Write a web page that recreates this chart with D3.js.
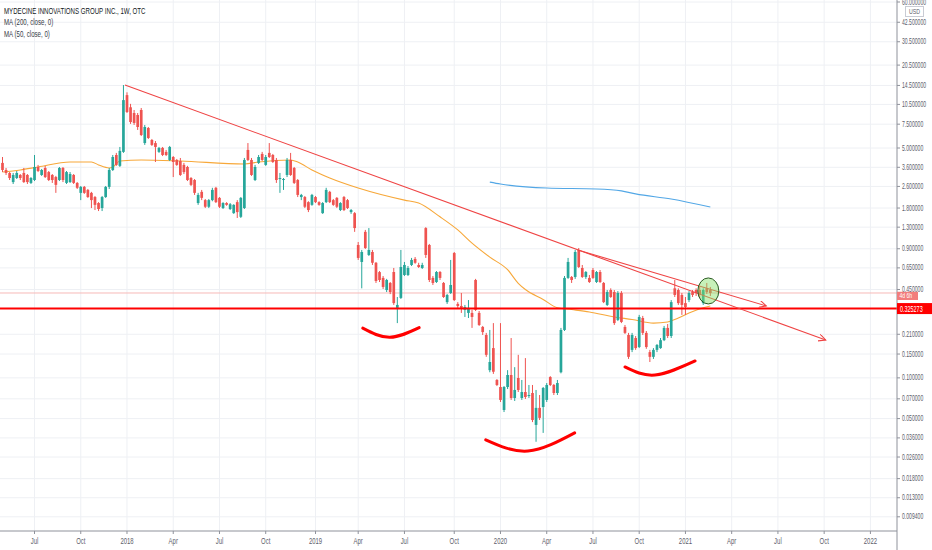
<!DOCTYPE html>
<html>
<head>
<meta charset="utf-8">
<script src="https://cdn.jsdelivr.net/npm/d3@7"></script>
<style>
html, body { margin: 0; padding: 0; background: #fff; }
svg { display: block; font-family: "Liberation Sans", Arial, sans-serif; }
</style>
</head>
<body>
<div id="chart"></div>
<script>
/* weekly bars, one per week starting Monday 2017-05-01 */
var firstWeek = "2017-05-01"
var opens = [
  3.88,3.44,3.27,2.80,3.00,3.16,3.27,3.16,2.76,2.90,
  3.62,3.16,3.56,3.32,3.16,3.05,2.90,3.56,2.76,2.80,
  3.16,2.76,2.33,2.58,2.45,2.33,2.17,1.96,1.80,2.17,
  2.58,3.44,4.44,3.69,4.68,12.3,10.0,9.07,8.77,9.55,
  5.44,7.03,5.73,5.44,4.68,5.01,4.68,4.08,4.29,4.08,
  4.01,3.75,3.62,3.00,2.90,1.96,2.37,2.06,1.84,2.06,
  2.54,2.14,1.80,1.96,1.77,1.65,1.99,1.55,1.80,4.84,
  4.08,2.90,3.88,4.52,3.75,4.60,4.44,4.08,2.95,2.90,
  3.16,4.08,3.56,2.90,2.17,2.17,1.99,1.90,2.17,1.99,
  1.65,1.99,2.37,2.06,2.14,1.74,2.17,2.06,1.68,1.65,
  0.960,0.719,1.20,0.81,0.852,0.709,0.605,0.548,0.446,0.503,
  0.606,0.329,0.39,0.576,0.576,0.683,0.757,0.683,0.649,1.28,
  0.96,0.548,0.511,0.606,0.503,0.363,0.424,0.837,0.352,0.34,
  0.318,0.302,0.302,0.529,0.302,0.238,0.2075,0.114,0.166,0.0965,
  0.0856,0.0579,0.0856,0.105,0.071,0.0998,0.071,0.0786,0.0734,0.0773,
  0.0449,0.06,0.0609,0.0687,0.1014,0.0886,0.0773,0.11,0.226,0.548,
  0.557,0.557,0.882,0.649,0.557,0.548,0.627,0.511,0.606,0.503,
  0.346,0.446,0.431,0.268,0.424,0.238,0.2075,0.161,0.197,0.169,
  0.277,0.215,0.155,0.143,0.161,0.166,0.19,0.234,0.204,0.459,
  0.446,0.41,0.357,0.376,0.431,0.446,0.446,0.357,0.459,0.446
]
var highs = [
  4.29,3.56,3.32,3.27,3.38,3.21,3.56,3.21,3.05,4.44,
  3.75,3.50,3.69,3.38,3.21,3.11,3.62,3.62,3.38,3.32,
  3.21,2.80,2.62,2.62,2.49,2.37,2.21,1.99,2.21,2.62,
  3.56,4.44,4.60,5.09,14.6,12.9,10.6,9.55,9.07,9.88,
  7.40,7.15,5.83,5.63,5.09,5.09,4.84,5.18,4.36,4.15,
  4.22,3.88,3.69,3.05,2.95,2.33,2.45,2.10,2.10,2.54,
  2.58,2.17,1.99,1.99,1.96,1.92,2.06,2.17,4.22,5.44,
  4.22,3.75,4.44,4.68,4.44,5.44,4.52,4.22,3.27,3.00,
  4.22,4.60,3.62,2.95,2.29,2.21,2.02,2.29,2.21,2.02,
  1.99,2.54,2.41,2.10,2.17,1.99,2.21,2.10,1.77,1.68,
  1.01,0.882,1.24,1.28,0.882,0.719,0.616,0.566,0.539,0.511,
  0.649,0.396,0.882,0.719,0.671,0.77,0.782,0.709,0.709,1.30,
  0.977,0.566,0.616,0.616,0.511,0.417,0.744,0.852,0.363,0.424,
  0.346,0.376,0.318,0.539,0.312,0.242,0.215,0.226,0.254,0.098,
  0.254,0.087,0.114,0.197,0.12,0.148,0.0965,0.14,0.0886,0.0886,
  0.0814,0.0747,0.0856,0.0916,0.103,0.0901,0.0965,0.234,0.566,0.77,
  0.566,0.882,0.912,0.683,0.616,0.576,0.649,0.616,0.627,0.511,
  0.446,0.459,0.446,0.438,0.438,0.246,0.215,0.215,0.204,0.292,
  0.287,0.222,0.161,0.166,0.178,0.197,0.242,0.25,0.376,0.529,
  0.459,0.424,0.396,0.438,0.446,0.459,0.478,0.459,0.503,0.47
]
var lows = [
  3.32,3.16,2.90,2.71,2.95,2.90,2.76,2.71,2.71,2.85,
  3.32,3.11,3.00,2.85,2.76,2.33,2.85,2.80,2.71,2.76,
  2.71,2.49,2.06,2.29,2.14,1.80,1.74,1.71,1.71,2.14,
  2.49,3.38,3.69,3.62,4.60,9.07,7.53,7.40,6.80,6.13,
  5.27,5.83,5.18,3.94,4.60,4.36,4.36,4.01,3.05,3.69,
  3.11,3.21,2.85,2.62,2.25,1.90,2.06,1.80,1.80,2.02,
  1.96,1.80,1.77,1.87,1.74,1.63,1.52,1.52,1.77,4.01,
  3.11,2.85,3.81,4.01,3.69,4.22,3.88,2.76,2.33,2.45,
  3.05,3.11,2.71,2.17,2.06,1.80,1.68,1.87,1.96,1.87,
  1.63,1.96,1.96,1.87,1.80,1.71,1.71,1.77,1.63,1.20,
  0.744,0.459,0.897,0.796,0.683,0.503,0.511,0.454,0.431,0.416,
  0.346,0.254,0.383,0.566,0.566,0.671,0.697,0.649,0.638,0.77,
  0.511,0.486,0.503,0.529,0.39,0.352,0.417,0.37,0.329,0.302,
  0.282,0.277,0.234,0.312,0.242,0.2075,0.143,0.11,0.107,0.087,
  0.0663,0.0559,0.0827,0.0687,0.0675,0.0786,0.0687,0.0698,0.071,0.0471,
  0.0337,0.0488,0.0392,0.0663,0.087,0.0747,0.0747,0.108,0.222,0.539,
  0.503,0.539,0.649,0.548,0.539,0.503,0.539,0.503,0.503,0.357,
  0.34,0.39,0.246,0.263,0.254,0.211,0.138,0.155,0.161,0.166,
  0.2075,0.164,0.131,0.138,0.155,0.164,0.187,0.197,0.197,0.396,
  0.346,0.292,0.292,0.363,0.396,0.403,0.39,0.346,0.417,0.403
]
var closes = [
  3.44,3.27,3.00,3.16,3.27,3.00,2.80,2.80,3.00,3.62,
  3.38,3.44,3.05,2.90,2.90,2.67,3.56,2.90,3.32,3.21,
  2.76,2.54,2.58,2.33,2.17,2.06,1.90,1.77,2.17,2.58,
  3.44,4.29,3.75,4.76,11.3,9.23,7.78,7.66,7.15,6.24,
  7.15,5.93,5.27,5.09,5.01,4.44,4.44,5.09,3.94,3.75,
  3.16,3.32,2.90,2.67,2.33,2.25,2.14,1.84,2.06,2.45,
  1.99,1.84,1.96,1.90,1.92,1.90,1.68,2.14,4.08,4.08,
  3.16,3.62,4.29,4.08,4.29,4.29,3.94,2.90,3.00,2.95,
  4.08,3.16,2.76,2.25,2.25,1.84,1.74,2.25,1.99,1.90,
  1.96,2.45,1.99,1.90,1.84,1.96,1.74,1.80,1.74,1.28,
  0.77,0.852,0.912,0.882,0.709,0.52,0.529,0.47,0.529,0.431,
  0.357,0.346,0.66,0.683,0.649,0.744,0.709,0.66,0.683,0.81,
  0.529,0.503,0.606,0.548,0.396,0.41,0.486,0.376,0.34,0.329,
  0.334,0.329,0.282,0.318,0.246,0.218,0.148,0.131,0.111,0.0886,
  0.0687,0.0856,0.105,0.071,0.0814,0.0814,0.0786,0.0722,0.0747,0.0488,
  0.06,0.0506,0.0842,0.0886,0.0886,0.0773,0.0916,0.226,0.548,0.719,
  0.529,0.852,0.66,0.557,0.606,0.511,0.548,0.606,0.511,0.363,
  0.431,0.396,0.254,0.424,0.259,0.215,0.143,0.2075,0.166,0.282,
  0.215,0.169,0.143,0.161,0.175,0.19,0.234,0.204,0.363,0.41,
  0.357,0.346,0.334,0.424,0.41,0.424,0.41,0.446,0.431,0.424
]

/* moving averages (week number, value) */
var ma50Weeks  = [0,5,10,19,25,27,30,31,33,39,50,68,72,81,83,87,92,100,113,117,123,128,132,137,142,145,147,152,156,160,165,172,177,183,187,190,193,197,199]
var ma50Values = [3.32,3.44,3.62,3.94,3.94,3.75,3.56,3.62,4.01,4.08,4.01,3.81,3.94,4.08,3.94,3.44,3.00,2.53,2.06,1.96,1.55,1.24,0.99,0.78,0.63,0.50,0.45,0.38,0.33,0.32,0.307,0.282,0.27,0.254,0.259,0.277,0.302,0.33,0.34]
var ma200Weeks  = [137,140,153,167,174,178,188,199]
var ma200Values = [2.80,2.71,2.53,2.49,2.41,2.29,2.10,1.83]

/* axis ticks */
var priceTicks = [60,42.5,30.5,20.5,14.5,10.5,7.5,5,3.6,2.6,1.8,1.3,0.9,0.65,0.45,0.21,0.15,0.1,0.07,0.05,0.036,0.026,0.018,0.013,0.0094]
var timeTickLabels = ["Jul","Oct","2018","Apr","Jul","Oct","2019","Apr","Jul","Oct","2020","Apr","Jul","Oct","2021","Apr","Jul","Oct","2022"]

/* drawings on the chart */
var supportLevel = 0.325273
var trendStart = [["2017-12-28",14.6],["2020-06-06",0.882]]
var trendEnd   = [["2021-10-07",0.1906],["2021-06-12",0.34]]
var arcLeft   = [["2019-04-10",0.233],["2019-06-02",0.1995],["2019-07-30",0.235]]
var arcMiddle = [["2019-12-08",0.0348],["2020-02-29",0.0288],["2020-05-31",0.0392]]
var arcRight  = [["2020-09-07",0.1204],["2020-11-05",0.105],["2021-01-23",0.1333]]
var circleAt = ["2021-02-18",0.439]
var countdownText = "4d 6h"
var legendLines = ["MYDECINE INNOVATIONS GROUP INC., 1W, OTC","MA (200, close, 0)","MA (50, close, 0)"]

/* layout */
var width = 932,
    height = 550,
    plotRight = 897,
    timeAxisY = 531,
    barStep = 3.557,
    bodyW = 2.7,
    upColor = "#26a69a",
    downColor = "#ef5350",
    gridColor = "#eef0f4",
    labelColor = "#5d606b"

var parse = d3.utcParse("%Y-%m-%d")
var week0 = parse(firstWeek)
var weekDate = function(i) { return d3.utcMonday.offset(week0, i) }

var x = d3.scaleUtc()
    .domain([week0, weekDate(opens.length - 1)])
    .range([2.5, 2.5 + (opens.length - 1) * barStep])
var y = d3.scaleLog()
    .domain([60, 0.0094])
    .range([2, 516.8])

var svg = d3.select("#chart").append("svg")
    .attr("width", width)
    .attr("height", height)

svg.append("rect").attr("width", width).attr("height", height).attr("fill", "#fff")

var defs = svg.append("defs")
defs.append("clipPath").attr("id", "plotClip")
  .append("rect").attr("width", plotRight).attr("height", timeAxisY)
defs.append("marker")
    .attr("id", "arrow")
    .attr("markerUnits", "userSpaceOnUse")
    .attr("markerWidth", 10).attr("markerHeight", 10)
    .attr("refX", 7).attr("refY", 3.5)
    .attr("orient", "auto")
  .append("path")
    .attr("d", "M0,0 L7,3.5 L0,7")
    .attr("fill", "none")
    .attr("stroke", "#ef4444")
    .attr("stroke-width", 1.1)

function squishText(g, tx, ty, str, size, sx, anchor, fill) {
  return g.append("text")
    .attr("transform", "translate(" + tx + "," + ty + ") scale(" + sx + ",1)")
    .attr("font-size", size)
    .attr("text-anchor", anchor)
    .attr("fill", fill)
    .text(str)
}

/* grid */
var timeTicks = d3.utcMonth.every(3)
    .range(Date.UTC(2017, 6, 1), Date.UTC(2022, 0, 2))
    .map(function(d) { return d3.utcMonday.ceil(d) })

var grid = svg.append("g").attr("id", "grid")
grid.selectAll(".vgrid").data(timeTicks).enter().append("line")
    .attr("class", "vgrid")
    .attr("x1", function(d) { return x(d) }).attr("x2", function(d) { return x(d) })
    .attr("y1", 0).attr("y2", timeAxisY)
    .attr("stroke", gridColor)
grid.selectAll(".hgrid").data(priceTicks).enter().append("line")
    .attr("class", "hgrid")
    .attr("x1", 0).attr("x2", plotRight)
    .attr("y1", function(d) { return y(d) }).attr("y2", function(d) { return y(d) })
    .attr("stroke", gridColor)

var plot = svg.append("g").attr("clip-path", "url(#plotClip)")

/* last price line */
var lastClose = closes[closes.length - 1]
plot.append("line")
    .attr("x1", 0).attr("x2", plotRight)
    .attr("y1", y(lastClose)).attr("y2", y(lastClose))
    .attr("stroke", "#f7b9b8")
    .attr("stroke-width", 1)

/* moving averages */
var maLine = d3.line()
    .x(function(d) { return x(weekDate(d[0])) })
    .y(function(d) { return y(d[1]) })
    .curve(d3.curveMonotoneX)
plot.append("path")
    .attr("d", maLine(d3.zip(ma50Weeks, ma50Values)))
    .attr("fill", "none")
    .attr("stroke", "#f7a83a")
    .attr("stroke-width", 1.1)
plot.append("path")
    .attr("d", maLine(d3.zip(ma200Weeks, ma200Values)))
    .attr("fill", "none")
    .attr("stroke", "#52a7e6")
    .attr("stroke-width", 1.1)

/* candles */
var bars = opens.map(function(o, i) {
  return { date: weekDate(i), o: o, h: highs[i], l: lows[i], c: closes[i] }
})
var candle = plot.append("g").selectAll("g").data(bars).enter().append("g")
candle.append("line")
    .attr("x1", function(d) { return x(d.date) }).attr("x2", function(d) { return x(d.date) })
    .attr("y1", function(d) { return y(d.h) }).attr("y2", function(d) { return y(d.l) })
    .attr("stroke", function(d) { return d.c >= d.o ? upColor : downColor })
    .attr("stroke-width", 1)
candle.append("rect")
    .attr("x", function(d) { return x(d.date) - bodyW / 2 })
    .attr("width", bodyW)
    .attr("y", function(d) { return y(Math.max(d.o, d.c)) })
    .attr("height", function(d) { return Math.max(1, Math.abs(y(d.o) - y(d.c))) })
    .attr("fill", function(d) { return d.c >= d.o ? upColor : downColor })

/* support level */
plot.append("line")
    .attr("x1", 0).attr("x2", plotRight)
    .attr("y1", y(supportLevel)).attr("y2", y(supportLevel))
    .attr("stroke", "#ff0000")
    .attr("stroke-width", 2)

/* trend lines */
trendStart.forEach(function(s, i) {
  var e = trendEnd[i]
  plot.append("line")
      .attr("x1", x(parse(s[0]))).attr("y1", y(s[1]))
      .attr("x2", x(parse(e[0]))).attr("y2", y(e[1]))
      .attr("stroke", "#ef4444")
      .attr("stroke-width", 1.1)
      .attr("marker-end", "url(#arrow)")
})

/* smile arcs */
var arcLine = d3.line()
    .x(function(d) { return x(parse(d[0])) })
    .y(function(d) { return y(d[1]) })
    .curve(d3.curveNatural)
;[arcLeft, arcMiddle, arcRight].forEach(function(a) {
  plot.append("path")
      .attr("d", arcLine(a))
      .attr("fill", "none")
      .attr("stroke", "#ff0000")
      .attr("stroke-width", 3)
      .attr("stroke-linecap", "round")
})

/* highlight circle */
plot.append("ellipse")
    .attr("cx", x(parse(circleAt[0])))
    .attr("cy", y(circleAt[1]))
    .attr("rx", 10.5).attr("ry", 13)
    .attr("fill", "rgba(130,225,100,0.45)")
    .attr("stroke", "#2a5a22")
    .attr("stroke-width", 1)

/* axes */
var axes = svg.append("g").attr("id", "axes")
axes.append("line")
    .attr("x1", 0).attr("x2", plotRight)
    .attr("y1", timeAxisY).attr("y2", timeAxisY)
    .attr("stroke", "#8f929b")
axes.append("line")
    .attr("x1", plotRight).attr("x2", plotRight)
    .attr("y1", 0).attr("y2", height)
    .attr("stroke", "#8f929b")

timeTicks.forEach(function(d, i) {
  axes.append("line")
      .attr("x1", x(d)).attr("x2", x(d))
      .attr("y1", timeAxisY).attr("y2", timeAxisY + 3)
      .attr("stroke", "#8f929b")
  squishText(axes, x(d), 544, timeTickLabels[i], 8.5, 0.7, "middle", labelColor)
})

var fmt = d3.format(".6f")
priceTicks.forEach(function(v) {
  axes.append("line")
      .attr("x1", plotRight).attr("x2", plotRight + 3)
      .attr("y1", y(v)).attr("y2", y(v))
      .attr("stroke", "#8f929b")
  squishText(axes, 902, y(v) + 2.5, fmt(v), 8.5, 0.6, "start", labelColor)
})

/* currency box */
axes.append("rect")
    .attr("x", 905.5).attr("y", 6.5).attr("width", 18).attr("height", 10)
    .attr("fill", "#fff").attr("stroke", "#c9ccd4")
squishText(axes, 914.5, 14, "USD", 7.5, 0.7, "middle", labelColor)

/* countdown and level labels */
var lastY = y(lastClose)
axes.append("rect")
    .attr("x", plotRight).attr("y", lastY - 1.2).attr("width", 21).attr("height", 8.2)
    .attr("fill", "#f27d7c")
squishText(axes, plotRight + 2.5, lastY + 5.3, countdownText, 7, 0.72, "start", "#fff")

var supY = y(supportLevel)
axes.append("rect")
    .attr("x", plotRight).attr("y", supY - 5.5).attr("width", 35).attr("height", 11)
    .attr("fill", "#ff0000")
squishText(axes, plotRight + 3, supY + 3, fmt(supportLevel), 8.5, 0.64, "start", "#fff")

/* legend */
legendLines.forEach(function(t, i) {
  squishText(svg, 4, 14 + i * 11.3, t, 8.5, 0.72, "start", i === 0 ? "#131722" : "#363a45")
})
</script>
</body>
</html>
